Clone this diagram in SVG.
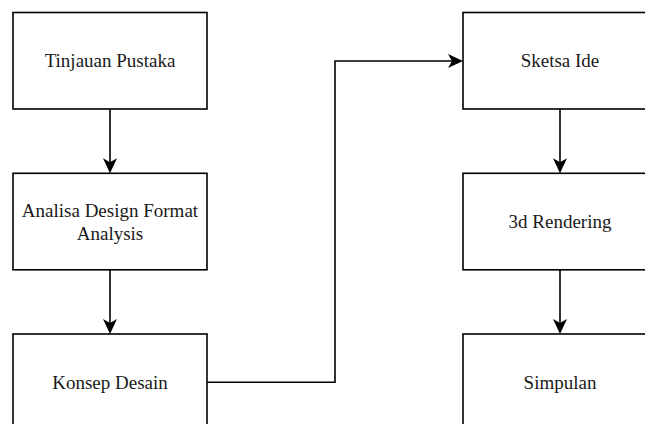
<svg xmlns="http://www.w3.org/2000/svg" width="645" height="424" viewBox="0 0 645 424">
  <style>
    .box { fill: #ffffff; stroke: #000000; stroke-width: 1.6; }
    .lbl { font-family: "Liberation Serif", "Times New Roman", serif; font-size: 19px; fill: #1a1a1a; text-anchor: middle; }
    .edge { fill: none; stroke: #000000; stroke-width: 1.6; }
  </style>
  <defs>
    <marker id="arrow" viewBox="0 0 15 14" refX="4" refY="7" markerWidth="15" markerHeight="14" markerUnits="userSpaceOnUse" orient="auto">
      <path d="M0,0 L15,7 L0,14 L4,7 Z" fill="#000000"/>
    </marker>
  </defs>
  <rect width="645" height="424" fill="#ffffff"/>

  <g id="tinjauan-pustaka">
    <rect class="box" x="13" y="12.5" width="194" height="96.5"/>
    <text class="lbl" x="110" y="67">Tinjauan Pustaka</text>
  </g>
  <g id="analisa-design">
    <rect class="box" x="13" y="173.3" width="194" height="96.5"/>
    <text class="lbl" x="110" y="216.5">Analisa Design Format</text>
    <text class="lbl" x="110" y="239.5">Analysis</text>
  </g>
  <g id="konsep-desain">
    <rect class="box" x="13" y="334" width="194" height="96.5"/>
    <text class="lbl" x="110" y="388.5">Konsep Desain</text>
  </g>
  <g id="sketsa-ide">
    <rect class="box" x="463" y="12.5" width="194" height="96.5"/>
    <text class="lbl" x="560" y="67">Sketsa Ide</text>
  </g>
  <g id="rendering-3d">
    <rect class="box" x="463" y="173.3" width="194" height="96.5"/>
    <text class="lbl" x="560" y="228.3">3d Rendering</text>
  </g>
  <g id="simpulan">
    <rect class="box" x="463" y="334" width="194" height="96.5"/>
    <text class="lbl" x="560" y="388.5">Simpulan</text>
  </g>

  <g id="connectors">
    <path class="edge" d="M110,109 L110,162.3" marker-end="url(#arrow)"/>
    <path class="edge" d="M110,269.8 L110,323" marker-end="url(#arrow)"/>
    <path class="edge" d="M207,382.3 L335,382.3 L335,61 L452,61" marker-end="url(#arrow)"/>
    <path class="edge" d="M560,109 L560,162.3" marker-end="url(#arrow)"/>
    <path class="edge" d="M560,269.8 L560,323" marker-end="url(#arrow)"/>
  </g>
</svg>
